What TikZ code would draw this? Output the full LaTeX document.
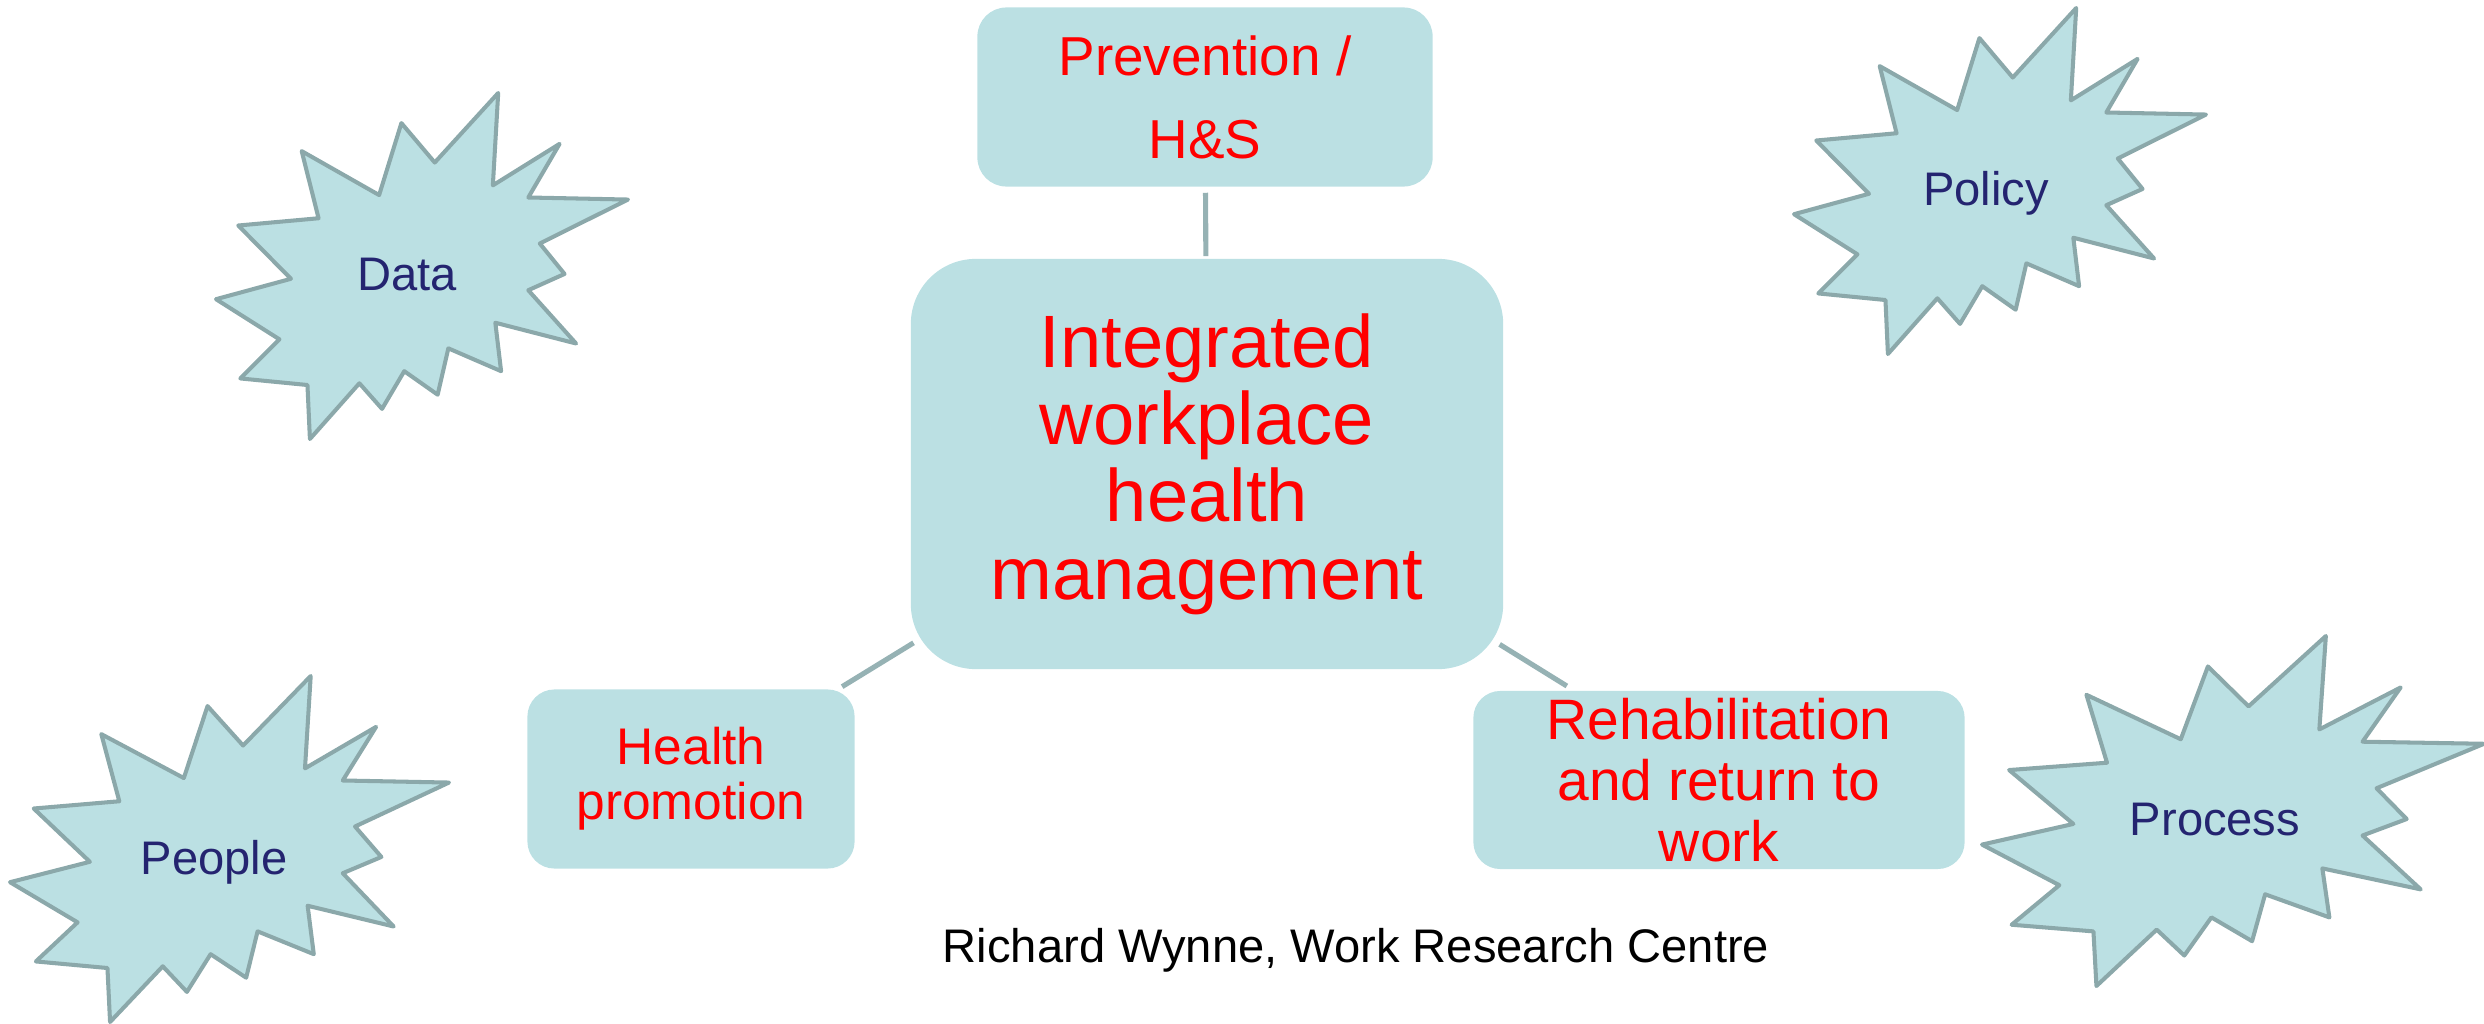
\documentclass[tikz,border=0pt]{standalone}
\usepackage{fontspec}
\setmainfont{Liberation Sans}
\usepackage{xcolor}
\usepackage{tikz}
\definecolor{shapefill}{RGB}{187,224,227}
\definecolor{burstedge}{RGB}{139,168,170}
\definecolor{linkgray}{RGB}{150,178,180}
\definecolor{labelnavy}{RGB}{36,36,112}
\definecolor{topicred}{RGB}{255,0,0}

\tikzset{
    burst/.pic={
        \draw[fill=shapefill, draw=burstedge, line width=1.15pt, line join=round]
            (0.531,0.201) -- (0.685,0) -- (0.672,0.267) -- (0.834,0.147) -- (0.758,0.302)
            -- (1,0.308) -- (0.786,0.435) -- (0.846,0.523) -- (0.758,0.570) -- (0.874,0.724)
            -- (0.678,0.664) -- (0.692,0.804) -- (0.564,0.738) -- (0.538,0.872) -- (0.457,0.804)
            -- (0.403,0.913) -- (0.348,0.839) -- (0.228,1) -- (0.222,0.844) -- (0.059,0.825)
            -- (0.154,0.712) -- (0,0.596) -- (0.182,0.537) -- (0.054,0.383) -- (0.249,0.362)
            -- (0.208,0.168) -- (0.396,0.295) -- (0.450,0.087) -- cycle;
    }
}

\begin{document}
\begin{tikzpicture}[
    x=0.01cm, y=-0.01cm,
    topic/.style={fill=shapefill, text=topicred, align=center, inner sep=0pt},
    burstlabel/.style={text=labelnavy, anchor=base, inner sep=0pt,
        font=\fontsize{13.4pt}{16pt}\selectfont},
    link/.style={draw=linkgray, line width=1.45pt}
]
\useasboundingbox (0,0) rectangle (2484,1024);

% hub and the three topic boxes
\node[topic, minimum width=5.92cm, minimum height=4.10cm, rounded corners=0.65cm,
      font=\fontsize{21.1pt}{22pt}\selectfont] (hub) at (1207,464)
      {Integrated\\workplace\\health\\management};
\node[topic, minimum width=4.55cm, minimum height=1.79cm, rounded corners=0.29cm,
      font=\fontsize{15.6pt}{23.6pt}\selectfont] (prevention) at (1205,97)
      {Prevention /\\H\&S};
\node[topic, minimum width=3.27cm, minimum height=1.79cm, rounded corners=0.27cm,
      font=\fontsize{14.65pt}{15.65pt}\selectfont] (promotion) at (691,779)
      {Health\\promotion};
\node[topic, minimum width=4.91cm, minimum height=1.78cm, rounded corners=0.27cm,
      font=\fontsize{16.2pt}{17.4pt}\selectfont] (rehab) at (1719,780)
      {Rehabilitation\\and return to\\work};

\draw[link, shorten <=0.02cm, shorten >=0.055cm] (hub) -- (prevention);
\draw[link, shorten <=-0.04cm, shorten >=0.04cm] (hub) -- (promotion);
\draw[link, shorten <=-0.05cm, shorten >=0.08cm] (hub) -- (rehab);

% explosions: corner x/y, width/height, label base point
\foreach \name/\x/\y/\w/\h/\tx/\ty/\lbl in {
    data/216/93/412/346/407/290/Data,
    policy/1794/8/412/346/1986/205/Policy,
    people/10/676/439/346/214/874/People,
    process/1982/636/502/350/2215/835/Process} {
    \pic[xscale=\w, yscale=\h] at (\x,\y) {burst};
    \node[burstlabel] (\name) at (\tx,\ty) {\lbl};
}

\node[anchor=base, inner sep=0pt, font=\fontsize{13.4pt}{16pt}\selectfont] (credit)
    at (1356,962) {Richard Wynne, Work Research Centre};

\end{tikzpicture}
\end{document}
